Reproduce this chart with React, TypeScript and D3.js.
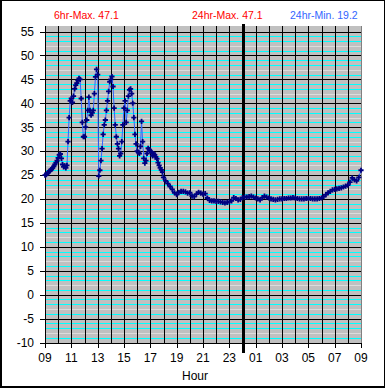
import React from 'react';
import * as d3 from 'd3';

// 5-minute readings, 09:00 - 17:55
const dayTemps = [
  25.0, 25.1, 25.3, 25.5, 25.8, 26.0, 26.2, 26.5, 26.8, 27.2, 27.6, 28.0,
  28.6, 29.2, 29.4, 28.5, 27.2, 26.7, 26.9, 26.5, 27.0, 32.0, 37.0, 40.5,
  41.0, 40.2, 41.5, 43.0, 43.8, 44.2, 44.8, 45.2, 45.0, 41.0, 36.0, 33.0,
  33.0, 35.0, 36.5, 38.5, 41.3, 38.5, 37.5, 38.0, 38.5, 42.0, 45.5, 47.1,
  46.0, 24.8, 26.0, 28.0, 30.5, 33.5, 35.5, 36.5, 38.5, 40.5, 42.5, 44.5,
  45.0, 45.6, 43.5, 39.0, 35.5, 33.0, 31.5, 30.5, 29.0, 29.5, 32.0, 35.5,
  39.0, 40.5, 36.0, 38.5, 41.5, 42.8, 43.0, 42.0, 40.0, 37.0, 33.5, 31.5,
  30.0, 29.8, 29.5, 31.0, 36.2, 32.0, 28.5, 27.5, 28.0, 29.5, 30.6, 30.3,
  30.0, 29.8, 29.0, 29.5, 29.2, 28.8, 28.4, 27.6, 27.0, 26.5, 26.1, 25.6,
];

// 10-minute readings, 18:00 - 09:00
const nightTemps = [
  24.5, 23.8, 23.2, 22.6, 22.0, 21.3,
  20.9, 21.4, 21.6, 21.6, 21.5, 21.2,
  21.3, 20.6, 20.5, 21.0, 21.4, 21.2,
  21.0, 21.1, 20.2, 19.7, 19.6, 19.6,
  19.5, 19.5, 19.4, 19.3, 19.2, 19.3,
  19.4, 19.6, 20.3, 20.1, 19.8, 19.9,
  20.3, 20.4, 20.4, 20.5, 20.6, 20.4,
  20.2, 20.0, 19.8, 20.3, 20.6, 20.4,
  20.2, 20.0, 19.9, 19.8, 19.9, 20.0,
  20.0, 20.1, 20.1, 20.2, 20.2, 20.3,
  20.2, 20.1, 20.0, 20.0, 20.0, 20.1,
  20.1, 20.1, 20.0, 20.0, 20.0, 20.1,
  20.2, 20.5, 20.9, 21.3, 21.6, 21.9,
  22.0, 22.1, 22.2, 22.3, 22.5, 22.7,
  22.9, 23.5, 24.4, 24.0, 23.8, 24.5,
  26.0,
];

const hourLabels = ['09', '11', '13', '15', '17', '19', '21', '23', '01', '03', '05', '07', '09'];
const yTickValues = [-10, -5, 0, 5, 10, 15, 20, 25, 30, 35, 40, 45, 50, 55];
const headers = [
  { text: '6hr-Max. 47.1', color: '#ff0000' },
  { text: '24hr-Max. 47.1', color: '#ff0000' },
  { text: '24hr-Min. 19.2', color: '#3366ff' },
];
const headerX = [54, 192, 290];

const width = 385;
const height = 388;
const font = '"Liberation Sans", Arial, sans-serif';

export default function App() {
  const data = [
    ...dayTemps.map((v, i) => ({ h: (i * 5) / 60, v })),
    ...nightTemps.map((v, i) => ({ h: 9 + (i * 10) / 60, v })),
  ];

  const x = d3.scaleLinear().domain([0, 24]).range([45, 361]);
  const y = d3.scaleLinear().domain([-10, 55]).range([342.5, 31.5]);
  const top = y(56.15);
  const bottom = y(-10);

  const line = d3
    .line<{ h: number; v: number }>()
    .x((d) => x(d.h))
    .y((d) => y(d.v));

  // minor lines every degree; the middle one of each band is paler
  const minor = d3.range(-10, 56).filter((v) => v % 5 !== 0);
  const minorColor = (v: number) => (((v % 5) + 5) % 5 === 2 ? '#dcdcdc' : '#00ffff');
  const hours = d3.range(1, 24);

  return (
    <svg
      width={width}
      height={height}
      style={{ position: 'absolute', left: 0, top: 0, background: '#fff' }}
      fontFamily={font}
    >
      <rect x={0.5} y={0.5} width={width - 1} height={height - 1} fill="#fff" stroke="#000" />
      <line x1={1.5} x2={1.5} y1={0} y2={height} stroke="#000" />
      <line x1={0} x2={width} y1={height - 1.5} y2={height - 1.5} stroke="#000" />

      {headers.map((d, i) => (
        <text key={i} x={headerX[i]} y={19} fontSize={10.5} fill={d.color}>
          {d.text}
        </text>
      ))}

      <g shapeRendering="crispEdges">
        <rect x={x(0)} y={top} width={x(24) - x(0)} height={bottom - top} fill="#c0c0c0" />
        {minor.map((v) => (
          <line
            key={v}
            x1={x(0)}
            x2={x(24)}
            y1={Math.round(y(v)) + 0.5}
            y2={Math.round(y(v)) + 0.5}
            stroke={minorColor(v)}
          />
        ))}
        {yTickValues.map((v) => (
          <line key={v} x1={40} x2={x(24)} y1={Math.round(y(v)) + 0.5} y2={Math.round(y(v)) + 0.5} stroke="#000" />
        ))}
        {hours.map((h) => (
          <line key={h} x1={Math.round(x(h)) + 0.5} x2={Math.round(x(h)) + 0.5} y1={top} y2={bottom} stroke="#000" />
        ))}
        <line x1={x(24) + 0.5} x2={x(24) + 0.5} y1={top} y2={bottom} stroke="#808080" />
        <line x1={x(0) + 0.5} x2={x(0) + 0.5} y1={top} y2={bottom + 0.5} stroke="#000" />
        {hourLabels.map((_, i) => (
          <line
            key={i}
            x1={Math.round(x(i * 2)) + 0.5}
            x2={Math.round(x(i * 2)) + 0.5}
            y1={bottom}
            y2={bottom + 5}
            stroke="#000"
          />
        ))}
        <rect x={x(15) - 1} y={24} width={3} height={353 - 24} fill="#000" />
      </g>

      <path d={line(data) ?? ''} fill="none" stroke="#3366ff" strokeWidth={1} />
      <g stroke="#000080" strokeWidth={1.8}>
        {data.map((d, i) => (
          <path key={i} transform={`translate(${x(d.h)},${y(d.v)})`} d="M-2.6,0H2.6M0,-2.6V2.6" />
        ))}
      </g>

      {yTickValues.map((v) => (
        <text key={v} x={34} y={y(v)} dy="0.36em" fontSize={12} textAnchor="end" fill="#000">
          {v}
        </text>
      ))}
      {hourLabels.map((t, i) => (
        <text key={i} x={x(i * 2)} y={362} fontSize={12} textAnchor="middle" fill="#000">
          {t}
        </text>
      ))}
      <text x={195} y={379.5} fontSize={12} textAnchor="middle" fill="#000">
        Hour
      </text>
    </svg>
  );
}
